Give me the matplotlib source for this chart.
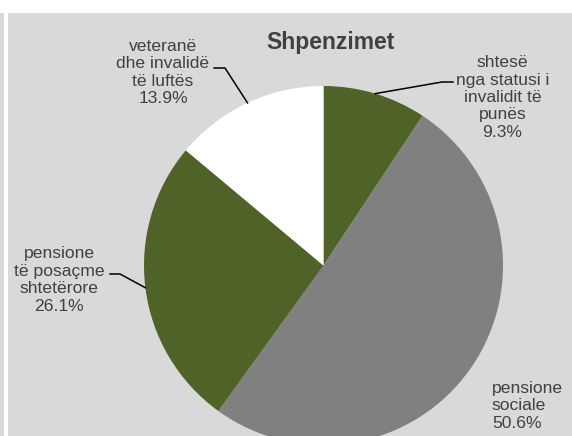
import numpy as np
import matplotlib
matplotlib.use("Agg")
import matplotlib.pyplot as plt
from matplotlib.patches import Rectangle

plt.rcParams['font.family'] = ['Liberation Sans', 'DejaVu Sans']

# slices, clockwise from 12 o'clock
categories = ["shtesë\nnga statusi i\ninvalidit të\npunës",
              "pensione\nsociale",
              "pensione\ntë posaçme\nshtetërore",
              "veteranë\ndhe invalidë\ntë luftës"]
shares = [9.3, 50.6, 26.1, 13.9]
colors = ['#4F6228', '#808080', '#4F6228', '#FFFFFF']

W, H = 572, 436
cx, cy, R = 323.5, 265.5, 179.5   # pie centre and radius in pixels
BG = '#D9D9D9'
TXT = '#404040'

fig = plt.figure(figsize=(W / 100, H / 100), dpi=100)
fig.patch.set_facecolor('white')
fig.add_artist(Rectangle((0, 0), 4 / W, (H - 13) / H, transform=fig.transFigure,
                         facecolor=BG, edgecolor='none', zorder=-5))
fig.add_artist(Rectangle((8 / W, 0), 1, (H - 13) / H, transform=fig.transFigure,
                         facecolor=BG, edgecolor='none', zorder=-5))

ax = fig.add_axes([(cx - R) / W, (H - cy - R) / H, 2 * R / W, 2 * R / H])
wedges, _ = ax.pie(shares, colors=colors, startangle=90, counterclock=False,
                   radius=1, wedgeprops=dict(linewidth=0))
ax.set_xlim(-1, 1)
ax.set_ylim(-1, 1)
ax.axis('off')


def px(x, y):
    # pixel position -> data coordinates of the pie axes
    return (x - cx) / R, (cy - y) / R


def edge(w):
    a = np.deg2rad((w.theta1 + w.theta2) / 2)
    return np.cos(a), np.sin(a)


fig.text(331 / W, 1 - 49 / H, "Shpenzimet", ha='center', va='baseline',
         fontsize=16.5, fontweight='bold', color=TXT)

# label text centre (px), alignment, leader polyline (px) ending at the slice edge
label_pos = [(502.5, 97.5, 'center', [(453, 82), (442, 82)]),
             (492, 406, 'left', None),
             (59, 280, 'center', [(110, 274), (120, 274)]),
             (163, 72.5, 'center', [(214, 68), (225, 68)])]

for w, name, val, (lx, ly, ha, lead) in zip(wedges, categories, shares, label_pos):
    tx, ty = px(lx, ly)
    ax.text(tx, ty, f"{name}\n{val:.1f}%", ha=ha, va='center', fontsize=12.6,
            color=TXT, multialignment=ha, clip_on=False)
    if lead:
        pts = [px(*p) for p in lead] + [edge(w)]
        ax.plot([p[0] for p in pts], [p[1] for p in pts], color='black',
                lw=1.1, clip_on=False)

fig.savefig('out.png', dpi=100, facecolor=fig.get_facecolor())
